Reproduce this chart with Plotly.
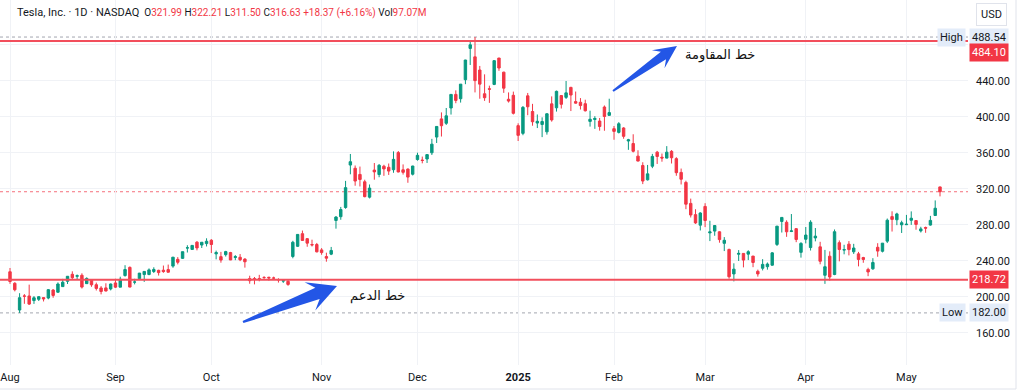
import math
import pandas as pd
import plotly.graph_objects as go

# ---------------- data (TSLA daily, Aug 2024 - May 2025) ----------------
holidays = ["2024-09-02", "2024-11-28", "2024-12-25", "2025-01-01",
            "2025-01-09", "2025-01-20", "2025-02-17", "2025-04-18"]
dates = [d for d in pd.bdate_range("2024-08-01", "2025-05-12")
         if d.strftime("%Y-%m-%d") not in holidays]

open_ = [
    # Aug
    227.7, 214.9, 185.2, 200.8, 200.8, 195.7, 197.1, 199.0, 198.5, 207.4, 205.0,
    211.2, 217.1, 224.9, 222.7, 223.8, 214.5, 218.8, 213.3, 209.7, 209.8, 208.6,
    # Sep
    215.3, 210.6, 223.5, 232.6, 216.2, 220.1, 224.6, 224.7, 228.0, 229.3,
    229.45, 230.1, 234.0, 241.5, 242.6, 254.1, 252.5, 260.6, 257.4, 259.0,
    # Oct
    262.7, 247.6, 244.5, 246.7, 249.0, 243.6, 243.8, 241.8, 220.1, 220.1, 220.0,
    221.4, 221.6, 220.7, 218.9, 217.3, 217.1, 244.7, 256.0, 270.0, 264.5, 258.0, 258.0,
    # Nov
    252.0, 244.6, 247.3, 284.7, 288.9, 299.1, 346.3, 342.7, 335.85, 327.7,
    310.6, 340.7, 335.8, 345.0, 343.8, 341.1, 360.1, 341.0, 341.8, 336.1,
    # Dec
    352.4, 351.8, 353.0, 359.9, 377.4, 397.6, 392.7, 409.7, 424.8, 420.0, 441.1,
    475.9, 466.5, 451.9, 425.5, 431.0, 435.9, 465.2, 449.5, 419.4, 423.8,
    # Jan
    390.1, 381.5, 423.2, 405.8, 392.95, 391.4, 383.2, 414.3, 409.9, 423.5,
    421.5, 432.6, 416.8, 416.06, 414.45, 394.8, 396.9, 395.2, 410.8, 401.5,
    # Feb
    386.7, 382.6, 387.5, 373.0, 370.2, 356.2, 345.8, 329.9, 345.0, 360.6,
    355.0, 354.0, 361.5, 353.4, 338.1, 327.0, 303.7, 291.2, 279.5,
    # Mar
    300.3, 270.9, 272.9, 272.1, 259.3, 252.5, 225.3, 247.2, 248.1, 247.3, 245.1,
    228.2, 231.6, 233.35, 235.0, 258.1, 283.6, 282.7, 272.5, 275.6, 249.3,
    # Apr
    263.8, 254.6, 265.3, 255.4, 223.8, 245.0, 224.7, 260.0, 251.8, 258.4, 249.9,
    247.6, 243.5, 230.3, 231.0, 254.9, 250.5, 261.7, 289.0, 285.5, 279.9,
    # May
    280.0, 284.9, 284.6, 273.1, 276.9, 279.6, 290.2, 321.99,
]
high = [
    231.9, 216.1, 203.9, 202.9, 213.4, 200.7, 200.7, 199.3, 208.5, 208.4, 215.9,
    219.8, 223.0, 228.2, 224.7, 226.0, 221.5, 219.1, 215.7, 211.8, 214.9, 214.6,
    219.9, 222.2, 235.0, 233.6, 219.9, 226.4, 228.5, 231.45, 232.7, 229.96,
    234.6, 235.7, 244.2, 244.0, 250.0, 257.2, 257.05, 261.75, 260.7, 264.9,
    264.0, 251.2, 249.8, 250.96, 249.8, 246.2, 247.4, 242.8, 223.3, 221.9, 224.3,
    222.8, 222.1, 222.3, 220.5, 218.2, 218.7, 262.1, 269.5, 273.5, 265.0, 263.35, 259.75,
    254.0, 248.9, 255.3, 289.6, 299.75, 328.7, 358.6, 345.8, 344.6, 330.0,
    324.7, 348.55, 347.4, 346.6, 348.0, 361.5, 361.9, 347.0, 342.55, 345.45,
    360.0, 355.7, 358.1, 375.4, 389.5, 404.8, 409.7, 424.9, 429.3, 436.3, 463.2,
    484.0, 488.54, 456.4, 447.1, 434.5, 462.8, 465.3, 450.0, 427.0, 427.9,
    392.7, 411.9, 426.4, 414.3, 402.5, 399.3, 403.8, 422.6, 429.0, 424.0,
    439.7, 433.2, 428.0, 420.7, 418.9, 406.7, 400.6, 398.6, 412.5, 420.0,
    389.7, 394.0, 388.4, 375.4, 380.5, 362.7, 349.4, 346.4, 358.7, 362.0,
    359.1, 367.3, 362.9, 355.0, 342.4, 328.9, 309.0, 297.2, 293.9,
    303.9, 284.35, 279.55, 272.65, 266.25, 253.4, 237.1, 251.8, 248.3, 251.6, 245.4,
    230.1, 241.7, 238.0, 249.5, 278.6, 288.2, 284.9, 291.85, 276.1, 260.6,
    277.45, 285.0, 276.3, 261.0, 252.0, 250.4, 274.7, 262.5, 257.7, 261.8, 258.75,
    249.8, 244.3, 232.2, 242.8, 259.45, 259.5, 286.85, 294.9, 293.3, 284.45,
    290.9, 294.8, 284.6, 277.7, 277.9, 289.8, 307.0, 322.21,
]
low = [
    214.3, 205.9, 182.0, 192.1, 190.8, 192.0, 195.2, 194.7, 197.1, 198.8, 204.2,
    210.8, 214.1, 219.6, 218.9, 209.1, 214.2, 211.0, 206.9, 202.6, 206.0, 207.0,
    209.6, 210.6, 222.25, 210.5, 213.7, 218.6, 216.5, 223.8, 226.3, 223.5,
    226.55, 226.9, 232.1, 235.9, 241.9, 249.1, 252.3, 251.5, 254.1, 255.8,
    248.5, 241.5, 237.8, 244.6, 240.7, 240.6, 239.5, 232.3, 214.4, 213.7, 217.1,
    218.9, 217.9, 219.0, 215.7, 215.3, 212.1, 242.7, 255.3, 262.2, 255.5, 255.8, 249.25,
    246.6, 238.9, 246.2, 275.6, 285.5, 297.7, 336.0, 323.3, 322.5, 310.4,
    309.2, 330.0, 332.75, 334.3, 335.3, 337.7, 338.2, 335.7, 326.6, 334.7,
    351.15, 348.2, 348.6, 357.5, 370.8, 378.0, 390.85, 402.4, 415.0, 415.7, 436.15,
    457.5, 427.0, 420.0, 417.6, 415.4, 435.1, 451.0, 426.5, 415.75, 402.5,
    373.0, 379.45, 401.7, 390.0, 387.4, 377.3, 380.1, 394.5, 405.7, 409.1,
    419.75, 406.3, 414.6, 408.0, 405.8, 389.0, 386.5, 384.5, 384.4, 401.3,
    374.4, 381.4, 375.5, 363.2, 360.3, 350.5, 325.1, 329.1, 342.85, 347.5,
    350.0, 353.7, 348.0, 334.4, 324.7, 297.25, 288.0, 280.9, 273.6,
    277.3, 261.8, 267.7, 260.0, 250.7, 220.0, 217.0, 239.7, 232.6, 240.7, 232.8,
    222.3, 229.2, 230.05, 234.55, 256.3, 271.3, 266.5, 271.8, 260.6, 243.4,
    259.25, 251.3, 261.5, 236.0, 214.25, 217.8, 223.9, 239.3, 247.1, 245.9, 247.5,
    233.7, 237.7, 222.8, 229.85, 244.4, 249.2, 259.6, 272.4, 279.5, 270.8,
    279.8, 279.8, 274.4, 271.35, 271.0, 279.0, 290.0, 311.50,
]
close = [
    216.9, 207.7, 198.9, 200.6, 191.8, 198.8, 200.0, 197.5, 207.8, 201.4, 214.1,
    216.1, 222.7, 221.1, 223.3, 210.7, 220.3, 213.2, 209.2, 205.8, 206.3, 214.1,
    210.6, 219.4, 230.2, 210.7, 216.3, 226.2, 228.1, 229.8, 230.3, 226.8,
    227.9, 227.2, 243.9, 238.25, 250.0, 254.3, 257.0, 254.2, 260.5, 261.6,
    258.0, 249.0, 240.7, 250.1, 240.8, 244.5, 241.05, 238.8, 217.8, 219.2, 219.6,
    221.3, 220.9, 220.7, 218.85, 218.0, 213.65, 260.5, 269.2, 262.5, 259.5, 257.55, 249.85,
    249.0, 242.8, 251.4, 288.5, 296.9, 321.2, 350.0, 328.5, 330.2, 311.2,
    320.7, 338.7, 346.0, 342.0, 339.6, 352.6, 338.6, 338.2, 332.9, 345.2,
    357.1, 351.4, 357.9, 369.5, 389.2, 390.0, 401.0, 424.8, 418.1, 436.2, 463.0,
    479.9, 440.1, 436.2, 421.1, 430.6, 462.3, 454.1, 431.7, 417.4, 403.8,
    379.3, 410.4, 411.05, 394.4, 394.9, 394.7, 403.3, 396.4, 428.2, 413.8,
    426.5, 424.1, 415.1, 412.4, 406.6, 397.15, 398.1, 389.1, 400.3, 404.6,
    383.7, 392.2, 378.2, 374.3, 361.6, 350.7, 328.5, 336.5, 355.9, 355.8,
    354.1, 360.6, 354.4, 337.8, 330.5, 302.8, 290.8, 282.0, 293.0,
    284.65, 272.0, 279.1, 263.45, 262.7, 222.15, 230.6, 248.1, 240.7, 250.0, 238.0,
    225.3, 235.9, 236.3, 248.7, 278.4, 288.1, 272.1, 273.1, 263.55, 259.2,
    268.5, 282.8, 267.3, 239.4, 233.3, 221.9, 272.2, 252.4, 252.3, 252.35, 254.1,
    241.4, 241.4, 227.5, 238.0, 250.7, 259.5, 285.0, 285.9, 292.0, 282.2,
    280.5, 287.2, 280.3, 275.35, 276.2, 284.8, 298.3, 316.63,
]

resistance = 484.10
support = 218.72
period_high = 488.54
period_low = 182.00
last_close = 316.63
price_ticks = [160, 200, 240, 280, 320, 360, 400, 440, 480]

# header legend items: (label, value)
legend_items = [("O", "321.99"), ("H", "322.21"), ("L", "311.50"), ("C", "316.63"),
                ("", "+18.37 (+6.16%)"), ("Vol", "97.07M")]

# ---------------- styling constants ----------------
UP = "#089981"
DOWN = "#F23645"
GRID = "#f0f2f6"
TXT = "#131722"
FONT = "Roboto"
W, H = 1024, 392
PW, PH = 968, 365          # plot area size in px (margin l=0, t=0)

x = list(range(len(dates)))
n = len(dates)

# month ticks from the first trading day of each month
tickvals, ticktext = [], []
prev = None
for i, d in enumerate(dates):
    key = (d.year, d.month)
    if key != prev:
        tickvals.append(i)
        ticktext.append("<b>2025</b>" if (d.month == 1) else d.strftime("%b"))
        prev = key

fig = go.Figure()
fig.add_trace(go.Candlestick(
    x=x, open=open_, high=high, low=low, close=close,
    increasing=dict(line=dict(color=UP, width=1), fillcolor=UP),
    decreasing=dict(line=dict(color=DOWN, width=1), fillcolor=DOWN),
    whiskerwidth=0, hoverinfo="skip", showlegend=False,
))

shapes = []
# dotted high / low / last-price lines
for yv, col in [(period_high, "#a3a6af"), (period_low, "#a3a6af"), (last_close, "#f5707b")]:
    shapes.append(dict(type="line", xref="paper", yref="y", x0=0, x1=1, y0=yv, y1=yv,
                       line=dict(color=col, width=1, dash="dot"), layer="below"))
# resistance / support lines
for yv in [resistance, support]:
    shapes.append(dict(type="line", xref="paper", yref="y", x0=0, x1=1, y0=yv, y1=yv,
                       line=dict(color="#f24f5c", width=2)))


def px2paper(px, py):
    return px / PW, 1 - py / PH


def arrow_path(tail, tip, w_tail, w_neck, head_len, head_hw):
    dx, dy = tip[0] - tail[0], tip[1] - tail[1]
    L = math.hypot(dx, dy)
    ux, uy = dx / L, dy / L
    nx, ny = -uy, ux
    neck = (tip[0] - ux * head_len * 0.72, tip[1] - uy * head_len * 0.72)
    barb = (tip[0] - ux * head_len, tip[1] - uy * head_len)
    pts = [
        (tail[0] + nx * w_tail, tail[1] + ny * w_tail),
        (neck[0] + nx * w_neck, neck[1] + ny * w_neck),
        (barb[0] + nx * head_hw, barb[1] + ny * head_hw),
        tip,
        (barb[0] - nx * head_hw, barb[1] - ny * head_hw),
        (neck[0] - nx * w_neck, neck[1] - ny * w_neck),
        (tail[0] - nx * w_tail, tail[1] - ny * w_tail),
    ]
    s = ""
    for k, (px, py) in enumerate(pts):
        xp, yp = px2paper(px, py)
        s += ("M" if k == 0 else "L") + f"{xp:.5f},{yp:.5f} "
    return s + "Z"


BLUE = "#2356e6"
shapes.append(dict(type="path", xref="paper", yref="paper",
                   path=arrow_path((613, 91), (677, 46), 1.0, 4.5, 23, 11),
                   fillcolor=BLUE, line=dict(width=0)))
shapes.append(dict(type="path", xref="paper", yref="paper",
                   path=arrow_path((243, 322), (337, 286), 1.2, 6.0, 29, 15),
                   fillcolor=BLUE, line=dict(width=0)))

# widget frame
fx, fy = px2paper(1016, 389)
shapes.append(dict(type="line", xref="paper", yref="paper", x0=0, x1=fx, y0=fy, y1=fy,
                   line=dict(color="#e0e3eb", width=1)))
shapes.append(dict(type="line", xref="paper", yref="paper", x0=fx, x1=fx, y0=fy, y1=1,
                   line=dict(color="#e0e3eb", width=1)))

anns = []
red = lambda s: f"<span style='color:{DOWN}'>{s}</span>"
nb = "\u00a0"
title = "<span style='font-size:11px'>Tesla, Inc. · 1D · NASDAQ</span>"
header = title + nb + nb + nb.join(f"{lab}{red(val)}" for lab, val in legend_items)
hx, hy = px2paper(15, 13)
anns.append(dict(xref="paper", yref="paper", x=hx, y=hy, xanchor="left", yanchor="middle",
                 text=header, showarrow=False, font=dict(family=FONT, size=10, color=TXT)))

# price-axis badges
LB = "#e3ecf9"
anns.append(dict(xref="paper", yref="y", x=1, y=period_high, xanchor="left", yanchor="middle",
                 xshift=1, text="488.54", showarrow=False, bgcolor=LB, borderpad=2,
                 font=dict(family=FONT, size=11, color=TXT)))
anns.append(dict(xref="paper", yref="y", x=1, y=period_high, xanchor="right", yanchor="middle",
                 xshift=-2, text="High", showarrow=False, bgcolor=LB, borderpad=2,
                 font=dict(family=FONT, size=11, color=TXT)))
anns.append(dict(xref="paper", yref="y", x=1, y=resistance, xanchor="left", yanchor="middle",
                 xshift=1, yshift=-11, text="484.10", showarrow=False, bgcolor=DOWN, borderpad=2,
                 font=dict(family=FONT, size=11, color="white")))
anns.append(dict(xref="paper", yref="y", x=1, y=support, xanchor="left", yanchor="middle",
                 xshift=1, text="218.72", showarrow=False, bgcolor=DOWN, borderpad=2,
                 font=dict(family=FONT, size=11, color="white")))
anns.append(dict(xref="paper", yref="y", x=1, y=period_low, xanchor="left", yanchor="middle",
                 xshift=1, text="182.00", showarrow=False, bgcolor=LB, borderpad=2,
                 font=dict(family=FONT, size=11, color=TXT)))
anns.append(dict(xref="paper", yref="y", x=1, y=period_low, xanchor="right", yanchor="middle",
                 xshift=-2, text="Low", showarrow=False, bgcolor=LB, borderpad=2,
                 font=dict(family=FONT, size=11, color=TXT)))
ux_, uy_ = px2paper(991, 15)
anns.append(dict(xref="paper", yref="paper", x=ux_, y=uy_, xanchor="center", yanchor="middle",
                 text="USD", showarrow=False, bordercolor="#e0e3eb", borderwidth=1, borderpad=4,
                 bgcolor="white", font=dict(family=FONT, size=11, color=TXT)))

# arabic labels
ax1, ay1 = px2paper(720, 55)
anns.append(dict(xref="paper", yref="paper", x=ax1, y=ay1, xanchor="center", yanchor="middle",
                 text="خط المقاومة", showarrow=False,
                 font=dict(family="DejaVu Sans", size=13, color="#111111")))
ax2, ay2 = px2paper(377, 296)
anns.append(dict(xref="paper", yref="paper", x=ax2, y=ay2, xanchor="center", yanchor="middle",
                 text="خط الدعم", showarrow=False,
                 font=dict(family="DejaVu Sans", size=13, color="#111111")))

px_per_bar = 930 / (n - 1)
x0 = -10 / px_per_bar
x1 = (PW - 10) / px_per_bar

fig.update_layout(
    width=W, height=H,
    margin=dict(l=0, r=W - PW, t=0, b=H - PH),
    paper_bgcolor="white", plot_bgcolor="white",
    boxgap=0.28,
    shapes=shapes, annotations=anns,
    xaxis=dict(range=[x0, x1], tickvals=tickvals, ticktext=ticktext,
               showgrid=True, gridcolor=GRID, gridwidth=1, zeroline=False,
               showline=False, ticks="", rangeslider=dict(visible=False),
               tickfont=dict(family=FONT, size=11, color=TXT), ticklabelstandoff=4,
               fixedrange=True),
    yaxis=dict(side="right", range=[124.1, 529.7], tickvals=price_ticks,
               ticktext=[f"{v:.2f}" if v != 480 else "" for v in price_ticks],
               showgrid=True, gridcolor=GRID, gridwidth=1, zeroline=False,
               showline=False, ticks="", ticklabelstandoff=7,
               tickfont=dict(family=FONT, size=11, color=TXT), fixedrange=True),
    font=dict(family=FONT),
)

fig.write_html("out.html",
               post_script="document.body.style.margin='0';document.body.style.overflow='hidden';",
               config={"displayModeBar": False})
